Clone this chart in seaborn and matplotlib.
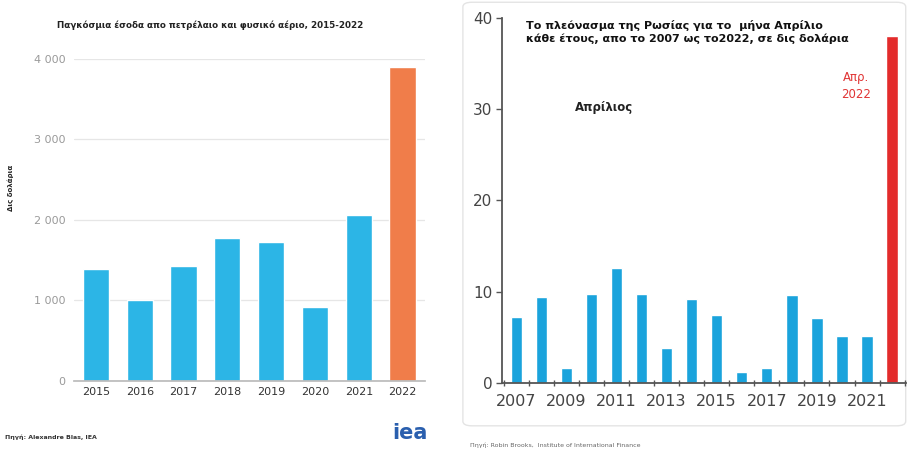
import matplotlib
matplotlib.use("Agg")
import matplotlib.pyplot as plt
import seaborn as sns
import pandas as pd
from matplotlib.patches import FancyBboxPatch
from matplotlib.ticker import FixedLocator, FuncFormatter

# Left chart: global oil & gas income, bn $
income_years = ['2015', '2016', '2017', '2018', '2019', '2020', '2021', '2022']
income_values = [1390, 1010, 1430, 1775, 1725, 920, 2065, 3900]
income_colors = ['#2cb5e6'] * 7 + ['#f07d4a']

# Right chart: Russia's April surplus, bn $
surplus_years = list(range(2007, 2023))
surplus_values = [7.2, 9.4, 1.6, 9.8, 12.6, 9.8, 3.8, 9.2, 7.5, 1.2, 1.6, 9.6, 7.1, 5.1, 5.2, 38.0]
surplus_colors = ['#1aa3dc'] * 15 + ['#e32b2b']

sns.set_theme(style='white')
plt.rcParams['font.family'] = ['DejaVu Sans']

fig = plt.figure(figsize=(9.13, 4.53), dpi=100)

# ---------- left panel ----------
ax1 = fig.add_axes([0.081, 0.159, 0.384, 0.711])
df1 = pd.DataFrame({'year': income_years, 'value': income_values})
sns.barplot(data=df1, x='year', y='value', hue='year', palette=income_colors,
            width=0.6, legend=False, ax=ax1, saturation=1)
ax1.set_ylim(0, 4000)
ax1.set_xlim(-0.5, 7.5)
ax1.set_yticks([0, 1000, 2000, 3000, 4000])
ax1.yaxis.set_major_formatter(FuncFormatter(lambda v, p: f'{int(v):,}'.replace(',', ' ')))
ax1.grid(axis='y', color='#e6e6e6', linewidth=0.9)
ax1.set_axisbelow(True)
for s in ['top', 'right', 'left']:
    ax1.spines[s].set_visible(False)
ax1.spines['bottom'].set_color('#bbbbbb')
ax1.tick_params(axis='y', length=0, labelsize=8, labelcolor='#9a9a9a', pad=6)
ax1.tick_params(axis='x', length=0, labelsize=8, labelcolor='#333333', pad=4)
ax1.set_xlabel('')
ax1.set_ylabel('Δις δολάρια', fontsize=5, fontweight='bold')
ax1.yaxis.set_label_coords(-0.17, 0.6)
fig.text(0.23, 0.945, 'Παγκόσμια έσοδα απο πετρέλαιο και φυσικό αέριο, 2015-2022',
         ha='center', va='center', fontsize=6.3, fontweight='bold', color='#222222')
fig.text(0.006, 0.035, 'Πηγή: Alexandre Blas, IEA', fontsize=4.5, fontweight='bold',
         color='#333333', ha='left', va='center')
fig.text(0.468, 0.045, 'iea', fontsize=15, fontweight='bold', color='#2a5fae',
         ha='right', va='center')

# ---------- right panel ----------
box = FancyBboxPatch((0.507, 0.06), 0.485, 0.935, boxstyle='round,pad=0,rounding_size=0.01',
                     transform=fig.transFigure, facecolor='none', edgecolor='#e4e4e4',
                     linewidth=1.0, zorder=-1)
fig.patches.append(box)

ax2 = fig.add_axes([0.55, 0.1545, 0.4425, 0.806])
ax2.patch.set_alpha(0)
df2 = pd.DataFrame({'year': [str(y) for y in surplus_years], 'value': surplus_values})
sns.barplot(data=df2, x='year', y='value', hue='year', palette=surplus_colors,
            width=0.45, legend=False, ax=ax2, saturation=1)
ax2.set_ylim(0, 40)
ax2.set_xlim(-0.56, 15.56)
ax2.set_yticks([0, 10, 20, 30, 40])
ax2.xaxis.set_major_locator(FixedLocator(list(range(0, 15, 2))))
ax2.set_xticklabels([str(y) for y in surplus_years[0:15:2]])
ax2.xaxis.set_minor_locator(FixedLocator([i - 0.5 for i in range(0, 17)]))
for s in ['top', 'right']:
    ax2.spines[s].set_visible(False)
for s in ['left', 'bottom']:
    ax2.spines[s].set_color('#555555')
    ax2.spines[s].set_linewidth(1.3)
ax2.tick_params(axis='y', which='major', length=4, width=1, color='#555555',
                labelsize=11, labelcolor='#444444', pad=3, direction='out', left=True)
ax2.tick_params(axis='x', which='major', length=0, labelsize=11.5, labelcolor='#444444', pad=8)
ax2.tick_params(axis='x', which='minor', length=4, width=1, color='#555555',
                direction='inout', bottom=True)
ax2.set_xlabel('')
ax2.set_ylabel('')
fig.text(0.576, 0.93, 'Το πλεόνασμα της Ρωσίας για το  μήνα Απρίλιο\n'
         'κάθε έτους, απο το 2007 ως το2022, σε δις δολάρια',
         ha='left', va='center', fontsize=8, fontweight='bold', color='#111111',
         linespacing=1.3)
fig.text(0.662, 0.762, 'Απρίλιος', ha='center', va='center', fontsize=8.5,
         fontweight='bold', color='#222222')
fig.text(0.938, 0.81, 'Απρ.\n2022', ha='center', va='center', fontsize=8.5,
         color='#e03535', linespacing=1.4)
fig.text(0.515, 0.018, 'Πηγή: Robin Brooks,  Institute of International Finance',
         fontsize=4.5, color='#666666', ha='left', va='center')

fig.savefig('out.png', dpi=100, facecolor='white')
